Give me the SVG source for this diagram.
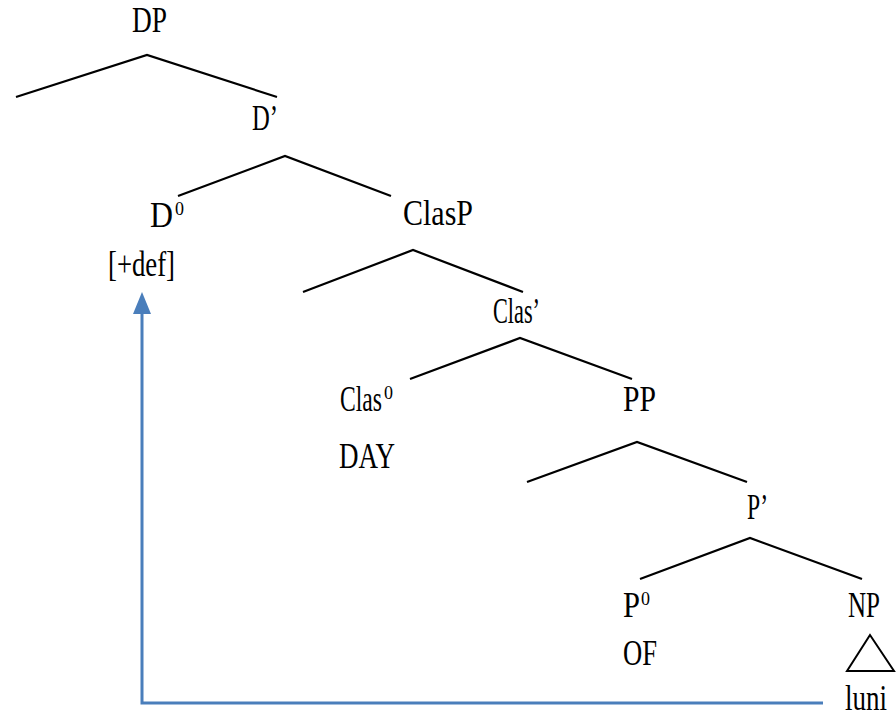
<svg xmlns="http://www.w3.org/2000/svg" width="896" height="719" viewBox="0 0 896 719">
<style>
text{font-family:"Liberation Serif","Times New Roman",serif;font-size:35px;fill:#000}
.sup{font-size:18px}
.br{fill:none;stroke:#000;stroke-width:2.2;stroke-linejoin:miter}
.mv{fill:none;stroke:#4a7ebb;stroke-width:3}
.ah{fill:#4a7ebb}
</style>
<rect width="896" height="719" fill="#fff"/>
<g id="connectors">
<polyline class="br" points="16,97 147,55 277,97"/>
<polyline class="br" points="178,196 285,156 391,196"/>
<polyline class="br" points="303,292 413,250 523,292"/>
<polyline class="br" points="410,379 520,338 632,379"/>
<polyline class="br" points="527,482 637,442 747,482"/>
<polyline class="br" points="640,579 750,538 862,579"/>
<polyline class="mv" points="823,703 142,703 142,310"/>
<polygon class="ah" points="142,292 133,314 151,314"/>
</g>
<g id="DP"><text x="132" y="32" textLength="35" lengthAdjust="spacingAndGlyphs">DP</text></g>
<g id="Dbar"><text x="252" y="130" textLength="26" lengthAdjust="spacingAndGlyphs">D’</text></g>
<g id="D0"><text x="150" y="227"><tspan textLength="23" lengthAdjust="spacingAndGlyphs">D</tspan><tspan class="sup" x="175" y="215">0</tspan></text>
<text x="108" y="276" textLength="67" lengthAdjust="spacingAndGlyphs">[+def]</text></g>
<g id="ClasP"><text x="403" y="225" textLength="70" lengthAdjust="spacingAndGlyphs">ClasP</text></g>
<g id="Clasbar"><text x="493" y="323" textLength="47" lengthAdjust="spacingAndGlyphs">Clas’</text></g>
<g id="Clas0"><text x="340" y="411"><tspan textLength="42" lengthAdjust="spacingAndGlyphs">Clas</tspan><tspan class="sup" x="384" y="399">0</tspan></text>
<text x="339" y="468" textLength="56" lengthAdjust="spacingAndGlyphs">DAY</text></g>
<g id="PP"><text x="623" y="411" textLength="33" lengthAdjust="spacingAndGlyphs">PP</text></g>
<g id="Pbar"><text x="747" y="519" textLength="21" lengthAdjust="spacingAndGlyphs">P’</text></g>
<g id="P0"><text x="623" y="617"><tspan textLength="17" lengthAdjust="spacingAndGlyphs">P</tspan><tspan class="sup" x="641" y="605">0</tspan></text>
<text x="623" y="665" textLength="34" lengthAdjust="spacingAndGlyphs">OF</text></g>
<g id="NP"><text x="848" y="617" textLength="32" lengthAdjust="spacingAndGlyphs">NP</text>
<polygon points="870,635 847,671 894,671" fill="none" stroke="#000" stroke-width="2"/>
<text x="845" y="710" textLength="42" lengthAdjust="spacingAndGlyphs">luni</text></g>
</svg>
